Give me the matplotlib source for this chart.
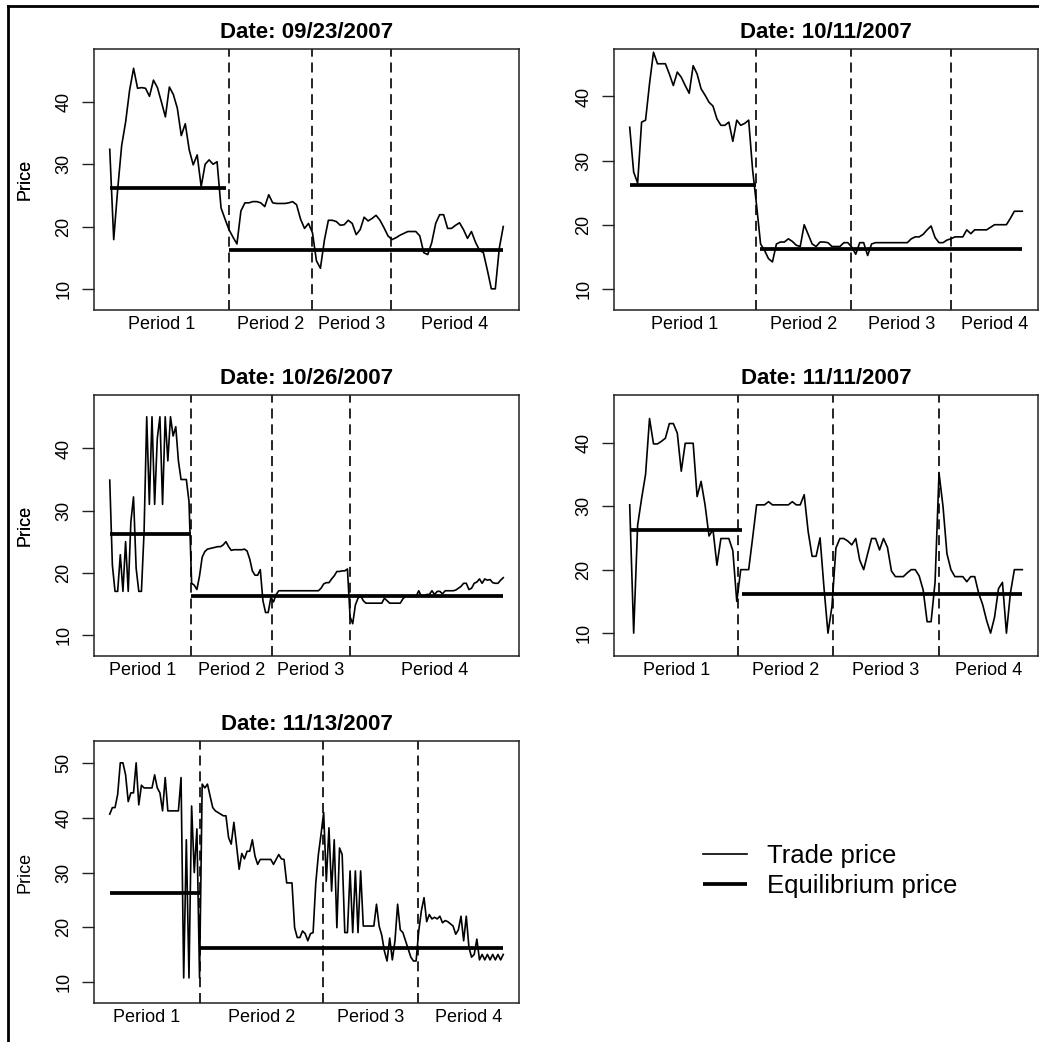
import numpy as np
import matplotlib.pyplot as plt
from matplotlib.lines import Line2D

plt.rcParams['font.family'] = ['Liberation Sans', 'DejaVu Sans']

# Session dates, one panel each
dates = ["09/23/2007", "10/11/2007", "10/26/2007", "11/11/2007", "11/13/2007"]

# Trade prices in trade order
price_0923 = [32.4, 17.9, 26, 33, 36.8, 41.9, 45.4, 42.2, 42.3, 42.2,
              40.9, 43.5, 42.3, 40, 37.6, 42.4, 41.2, 39, 34.6, 36.5,
              32.3, 29.9, 31.5, 26.4, 30, 30.7, 30, 30.4, 23, 21.2,
              19.5, 18.3, 17.2, 22.5, 23.8, 23.8, 24, 24, 23.8, 23.2,
              25.1, 23.8, 23.7, 23.7, 23.7, 23.8, 24, 23.5, 21.2, 19.7,
              20.5, 19, 14.5, 13.3, 17.8, 21, 21, 20.8, 20.2, 20.3,
              21, 20.5, 18.7, 19.5, 21.5, 20.9, 21.3, 21.8, 21, 19.8,
              18.5, 17.9, 18.2, 18.6, 18.9, 19.2, 19.2, 19.2, 18.5, 15.8,
              15.5, 17.4, 20.5, 21.9, 21.9, 19.7, 19.7, 20.2, 20.6, 19.5,
              18.1, 19.2, 17.5, 16.2, 15.8, 13, 10, 10, 16.5, 20]

price_1011 = [35.2, 28.2, 26.5, 36, 36.3, 42, 46.9, 45.1, 45.1, 45.1,
              43.5, 41.7, 43.8, 43, 41.7, 40.5, 44.8, 43.5, 41.2, 40.2,
              39.1, 38.5, 36.5, 35.5, 35.5, 36, 33, 36.3, 35.5, 35.8,
              36.3, 28.5, 23, 17, 16, 14.7, 14.2, 17, 17.3, 17.3,
              17.8, 17.4, 16.8, 16.6, 20, 18.5, 17, 16.6, 17.3, 17.3,
              17.2, 16.6, 16.6, 16.6, 17.2, 17.2, 16.5, 15.4, 17.2, 17.2,
              15.2, 17, 17.2, 17.2, 17.2, 17.2, 17.2, 17.2, 17.2, 17.2,
              17.2, 17.8, 18.1, 18.1, 18.5, 19.2, 19.8, 18, 17.2, 17.2,
              17.6, 17.8, 18.1, 18.1, 18.1, 19.2, 18.6, 19.2, 19.2, 19.2,
              19.2, 19.6, 20, 20, 20, 20, 21, 22.1, 22.1, 22.1]

price_1026 = [34.9, 21.2, 17, 17, 22.9, 17, 25, 17, 28.2, 32.2,
              20.7, 17, 17, 26.6, 45.1, 31, 45.1, 31, 41.6, 45.1,
              31, 45.1, 38, 45.1, 42, 43.5, 38, 35, 35, 35,
              31.5, 18.3, 18, 17.3, 19.5, 22.5, 23.4, 23.8, 23.9, 24,
              24.1, 24.2, 24.2, 24.5, 25, 24.2, 23.6, 23.7, 23.7, 23.7,
              23.7, 23.8, 23.5, 22.2, 20.3, 19.6, 19.6, 20.5, 15.5, 13.6,
              13.6, 16, 15.3, 16.5, 17.1, 17.1, 17.1, 17.1, 17.1, 17.1,
              17.1, 17.1, 17.1, 17.1, 17.1, 17.1, 17.1, 17.1, 17.1, 17.1,
              17.5, 18.2, 18.4, 18.4, 19, 19.5, 20.2, 20.2, 20.3, 20.3,
              20.6, 12.9, 11.8, 14.8, 15.9, 16.3, 15.5, 15.1, 15.1, 15.1,
              15.1, 15.1, 15.1, 15.1, 15.9, 15.5, 15.1, 15.1, 15.1, 15.1,
              15.1, 15.8, 16.2, 16.2, 16.2, 16.2, 16.2, 17.1, 16.2, 16.3,
              16.5, 16.5, 17.1, 16.5, 17, 17, 16.6, 17.1, 17.1, 17.1,
              17.1, 17.2, 17.5, 17.8, 18.3, 18.3, 17.3, 17.5, 18.3, 18.5,
              19, 18.3, 19, 18.8, 18.9, 18.4, 18.3, 18.3, 18.8, 19.2]

price_1111 = [30.2, 10, 27, 31.2, 35, 43.8, 39.8, 39.8, 40.2, 40.7,
              43, 43, 41.5, 35.5, 39.9, 39.9, 39.9, 31.5, 33.9, 30.2,
              25.3, 26.3, 20.7, 24.9, 24.9, 24.9, 23, 15, 20, 20,
              20, 25, 30.2, 30.2, 30.2, 30.7, 30.2, 30.2, 30.2, 30.2,
              30.2, 30.7, 30.2, 30.2, 31.8, 26, 22.1, 22.1, 25, 17.1,
              10, 14.2, 23.4, 24.9, 24.9, 24.5, 23.9, 24.9, 21.5, 20,
              22.5, 24.9, 24.9, 23.1, 24.9, 23.5, 19.8, 18.9, 18.9, 18.9,
              19.5, 20, 20, 19, 16.8, 11.8, 11.8, 18, 35.2, 30,
              22.5, 20, 18.9, 18.9, 18.9, 18.1, 18.9, 18.9, 16.3, 14.5,
              12, 10, 12.5, 17, 18, 10, 16.3, 20, 20, 20]

price_1113 = [40.7, 41.9, 41.9, 44.3, 50.1, 50.1, 47.9, 43, 44.6, 44.6,
              50.1, 42.4, 46, 45.5, 45.5, 45.5, 45.5, 47.9, 45.5, 44.6,
              41.3, 47.4, 41.3, 41.3, 41.3, 41.3, 41.3, 47.4, 10.7, 36,
              10.7, 42.2, 30, 38, 10.7, 46.2, 45.5, 46.2, 44, 41.9,
              41.3, 41, 40.7, 40.4, 40.4, 36.4, 35.2, 39.2, 35, 30.6,
              33.5, 32.5, 33.9, 33.9, 36, 33, 31.5, 32.4, 32.4, 32.4,
              32.4, 32.4, 31.5, 32.4, 33.3, 32.5, 32.4, 28.1, 28.1, 28.1,
              19.9, 18.1, 18.1, 19.3, 18.8, 17.5, 18.8, 19, 28, 33.3,
              37, 41, 28.4, 38.2, 26.6, 36, 19.9, 34.5, 33.3, 19,
              19, 30.3, 19, 30.3, 19, 30.3, 20.2, 20.2, 20.2, 20.2,
              20.2, 24.2, 20.2, 18.5, 15.6, 13.8, 18, 14, 17.5, 24.2,
              19.5, 19, 17.5, 16, 14.5, 13.8, 13.8, 19.3, 23, 25.4,
              21, 22.3, 21.5, 21.8, 21.5, 22, 20.8, 21.2, 21, 20.6,
              20.2, 18.7, 19.5, 22, 17.5, 22, 16.3, 14.5, 15, 17.8,
              14, 15, 14, 15, 14, 15, 14, 15, 14, 15]

prices = [price_0923, price_1011, price_1026, price_1111, price_1113]

# Trade numbers where periods 2, 3 and 4 begin
period_breaks = [[31.1, 51.8, 71.8],
                 [32.9, 56.9, 82.1],
                 [31.7, 62.5, 91.8],
                 [28.4, 52.3, 78.9],
                 [35.0, 81.8, 117.9]]

# Equilibrium price: high in period 1, low afterwards
eq_high = 26.2
eq_low = 16.2
eq_high_end = [30.2, 32.9, 31.7, 29.4, 35.0]
eq_low_start = [31.1, 33.9, 31.7, 29.4, 35.0]

period_labels = ["Period 1", "Period 2", "Period 3", "Period 4"]
y_limits = [(6.6, 48.5), (6.7, 47.4), (6.6, 48.6), (6.4, 47.5), (6.1, 54.1)]
y_ticks = [[10, 20, 30, 40]] * 4 + [[10, 20, 30, 40, 50]]

W, H = 1039, 1042
fig = plt.figure(figsize=(W / 100, H / 100), dpi=100)

# axes boxes in pixels: left, top, right, bottom
boxes = [(94, 49, 519, 310), (614, 49, 1038, 310),
         (94, 395, 519, 656), (614, 395, 1038, 656),
         (94, 741, 519, 1003)]

frame_col = '#222222'
handles = None
for i, (l, t, r, b) in enumerate(boxes):
    ax = fig.add_axes([l / W, 1 - b / H, (r - l) / W, (b - t) / H])
    y = prices[i]
    n = len(y)
    x = np.arange(1, n + 1)

    tp, = ax.plot(x, y, color='black', lw=1.2)
    eq, = ax.plot([1, eq_high_end[i]], [eq_high, eq_high],
                  color='black', lw=2.7, solid_capstyle='butt')
    ax.plot([eq_low_start[i], n], [eq_low, eq_low],
            color='black', lw=2.7, solid_capstyle='butt')
    if handles is None:
        handles = [tp, eq]

    for v in period_breaks[i]:
        ax.axvline(v, color='black', lw=1.2, linestyle=(0, (6, 3.5)))

    x0 = 1 - 0.04 * (n - 1)
    x1 = n + 0.04 * (n - 1)
    ax.set_xlim(x0, x1)
    ax.set_ylim(*y_limits[i])

    # period names centred between the dashed lines
    edges = [x0] + period_breaks[i] + [x1]
    mids = [(edges[j] + edges[j + 1]) / 2 for j in range(4)]
    ax.set_xticks(mids)
    ax.set_xticklabels(period_labels, fontsize=13)
    ax.tick_params(axis='x', length=0, pad=4)

    ax.set_yticks(y_ticks[i])
    ax.set_yticklabels([str(v) for v in y_ticks[i]], rotation=90,
                       va='center', fontsize=13)
    ax.tick_params(axis='y', length=8.5, width=1.0, pad=7, color=frame_col)

    ax.set_ylabel("Price", fontsize=13, va='center')
    ax.yaxis.set_label_coords(-(l - 25) / (r - l), 0.5)
    ax.set_title("Date: " + dates[i], fontsize=16, fontweight='bold', pad=8)

    for s in ax.spines.values():
        s.set_color(frame_col)
        s.set_linewidth(1.1)

fig.legend(handles, ["Trade price", "Equilibrium price"],
           loc='center left', bbox_to_anchor=(703 / W, 1 - 871 / H),
           frameon=False, fontsize=18.5, borderpad=0, borderaxespad=0,
           handlelength=1.71, handletextpad=0.78, labelspacing=0.22)

# outer frame line on the left and top edge
fig.add_artist(Line2D([8 / W, 8 / W], [0, 1 - 6 / H], color='black', lw=2))
fig.add_artist(Line2D([8 / W, 1], [1 - 6 / H, 1 - 6 / H], color='black', lw=2))

fig.savefig("out.png", dpi=100)
